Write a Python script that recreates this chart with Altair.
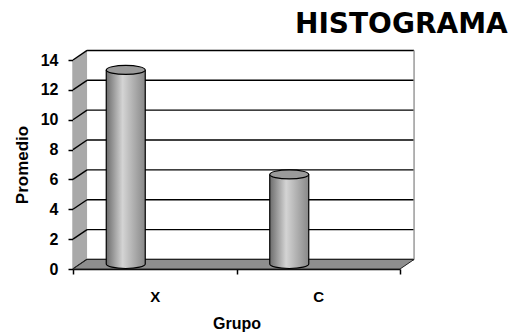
import altair as alt
import pandas as pd

# Data
CATEGORIES = ["X", "C"]
PROMEDIO = [13, 6]
Y_TICKS = [0, 2, 4, 6, 8, 10, 12, 14]

# 3-D box depth, expressed in data units (categories along x, Promedio along y)
DEPTH_X = 0.086
DEPTH_Y = 0.64
Y_MAX = 14
N_CAT = len(CATEGORIES)

FONT = "Liberation Sans"

bars = pd.DataFrame({"grupo": CATEGORIES, "promedio": PROMEDIO, "base": [0] * len(CATEGORIES)})

side_wall = pd.DataFrame({
    "x": [0, DEPTH_X],
    "y": [0, DEPTH_Y],
    "y2": [Y_MAX, Y_MAX + DEPTH_Y],
})
floor = pd.DataFrame({
    "y": [0, DEPTH_Y],
    "x": [0, DEPTH_X],
    "x2": [N_CAT, N_CAT + DEPTH_X],
})
grid = pd.DataFrame({
    "x0": [0] * len(Y_TICKS),
    "x1": [DEPTH_X] * len(Y_TICKS),
    "x2": [N_CAT + DEPTH_X] * len(Y_TICKS),
    "t": Y_TICKS,
    "tb": [t + DEPTH_Y for t in Y_TICKS],
})
right_edge = pd.DataFrame({"x": [N_CAT + DEPTH_X], "y": [DEPTH_Y], "y2": [Y_MAX + DEPTH_Y]})

y_scale = alt.Scale(domain=[0, Y_MAX], nice=False, zero=True)
x_lin = alt.Scale(domain=[0, N_CAT], nice=False, zero=False)
y_axis = alt.Axis(values=Y_TICKS, tickCount=len(Y_TICKS), title="Promedio", labelOverlap=False,
                  labelFontSize=16, labelPadding=10, titleFontSize=17, titlePadding=9)


def y_enc(field):
    return alt.Y(field, type="quantitative", scale=y_scale, axis=y_axis)


# Box decoration: side wall, back-wall grid, floor
wall = alt.Chart(side_wall).mark_area(orient="vertical", color="#a9a9a9", opacity=1).encode(
    x=alt.X("x:Q", scale=x_lin, axis=None), y=y_enc("y"), y2="y2:Q")
back_grid = alt.Chart(grid).mark_rule(color="black", strokeWidth=1.4).encode(
    x=alt.X("x1:Q", scale=x_lin, axis=None), x2="x2:Q", y=y_enc("tb"))
side_grid = alt.Chart(grid).mark_rule(color="black", strokeWidth=1.4).encode(
    x=alt.X("x0:Q", scale=x_lin, axis=None), x2="x1:Q", y=y_enc("t"), y2="tb:Q")
edge = alt.Chart(right_edge).mark_rule(color="#9a9a9a", strokeWidth=1.5).encode(
    x=alt.X("x:Q", scale=x_lin, axis=None), y=y_enc("y"), y2="y2:Q")
floor_area = alt.Chart(floor).mark_area(orient="horizontal", color="#8e8e8e", opacity=1,
                                        stroke="#222222", strokeWidth=1).encode(
    y=y_enc("y"), x=alt.X("x:Q", scale=x_lin, axis=None), x2="x2:Q")

# Cylinders
x_band = alt.X(
    "grupo:N", sort=CATEGORIES, title="Grupo",
    scale=alt.Scale(paddingInner=0, paddingOuter=0),
    axis=alt.Axis(tickBand="extent", labelAngle=0),
)

CYL_W = 39
CYL_DX = -29
CYL_DY = -5
shade = alt.LinearGradient(
    gradient="linear", x1=0, x2=1, y1=0, y2=0,
    stops=[alt.GradientStop(color="#6c6c6c", offset=0),
           alt.GradientStop(color="#d4d4d4", offset=0.42),
           alt.GradientStop(color="#888888", offset=1)],
)
TOP_ELLIPSE = "M -1 0 A 1 0.23 0 1 1 1 0 A 1 0.23 0 1 1 -1 0 Z"
BOTTOM_HALF = "M -1 0 A 1 0.23 0 0 0 1 0"

base = alt.Chart(bars)
body = base.mark_bar(width=CYL_W, fill=shade, xOffset=CYL_DX, yOffset=CYL_DY, y2Offset=CYL_DY).encode(
    x=x_band, y=y_enc("promedio"), y2="base:Q")
bottom = base.mark_point(shape=BOTTOM_HALF, size=CYL_W ** 2, filled=True, fill=shade, opacity=1,
                         stroke="black", strokeWidth=1.2, xOffset=CYL_DX, yOffset=CYL_DY).encode(
    x=x_band, y=y_enc("base"))
left_side = base.mark_rule(color="black", strokeWidth=1.2, xOffset=CYL_DX - CYL_W / 2,
                           yOffset=CYL_DY, y2Offset=CYL_DY).encode(
    x=x_band, y=y_enc("promedio"), y2="base:Q")
right_side = base.mark_rule(color="black", strokeWidth=1.2, xOffset=CYL_DX + CYL_W / 2,
                            yOffset=CYL_DY, y2Offset=CYL_DY).encode(
    x=x_band, y=y_enc("promedio"), y2="base:Q")
top = base.mark_point(shape=TOP_ELLIPSE, size=CYL_W ** 2, filled=True, fill="#9a9a9a", opacity=1,
                      stroke="black", strokeWidth=1.2, xOffset=CYL_DX, yOffset=CYL_DY).encode(
    x=x_band, y=y_enc("promedio"))

box = alt.layer(wall, back_grid, side_grid, edge, floor_area)
cylinders = alt.layer(body, bottom, left_side, right_side, top)

chart = alt.layer(box, cylinders).resolve_scale(x="independent").properties(
    width=327, height=209,
    padding={"left": 73, "top": 60, "right": 115, "bottom": 64},
    autosize=alt.AutoSizeParams(type="none"),
    background="white",
    title=alt.TitleParams("HISTOGRAMA", anchor="start", frame="group", dx=222, offset=11,
                          font="DejaVu Sans", fontSize=28, fontWeight="bold", color="black"),
).configure_view(stroke=None).configure_axis(
    grid=False, domainColor="black", domainWidth=1.5, tickColor="black", tickSize=5,
    tickWidth=1.5, labelFont=FONT, labelFontWeight="bold", labelColor="black",
    titleFont=FONT, titleFontWeight="bold", titleColor="black",
).configure_axisX(
    labelFontSize=15, labelPadding=15, titleFontSize=16, titlePadding=11,
)

chart.save("out.html", embed_options={"renderer": "svg", "actions": False})
